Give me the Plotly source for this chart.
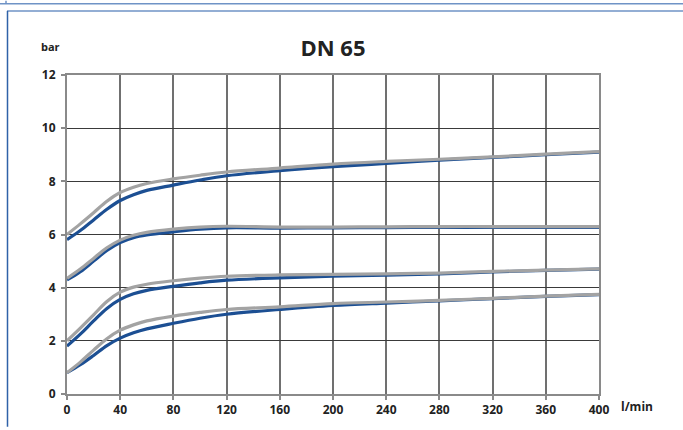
import plotly.graph_objects as go

flow = [0, 10, 20, 30, 40, 50, 60, 80, 100, 120, 160, 200, 240, 280, 320, 360, 400]

blue_1 = [5.81, 6.15, 6.55, 6.95, 7.28, 7.50, 7.66, 7.86, 8.05, 8.21, 8.40, 8.55, 8.67, 8.80, 8.90, 9.00, 9.10]
grey_1 = [6.00, 6.40, 6.82, 7.25, 7.58, 7.78, 7.92, 8.09, 8.23, 8.35, 8.50, 8.65, 8.75, 8.83, 8.92, 9.02, 9.12]
blue_2 = [4.29, 4.60, 5.00, 5.40, 5.70, 5.88, 5.98, 6.10, 6.20, 6.25, 6.24, 6.25, 6.26, 6.27, 6.27, 6.27, 6.27]
grey_2 = [4.35, 4.70, 5.10, 5.50, 5.79, 5.97, 6.08, 6.20, 6.28, 6.31, 6.28, 6.28, 6.29, 6.30, 6.30, 6.30, 6.30]
blue_3 = [1.80, 2.25, 2.75, 3.22, 3.56, 3.77, 3.90, 4.05, 4.18, 4.28, 4.37, 4.43, 4.47, 4.52, 4.59, 4.65, 4.70]
grey_3 = [2.00, 2.48, 2.98, 3.48, 3.83, 4.02, 4.13, 4.26, 4.36, 4.43, 4.48, 4.50, 4.52, 4.55, 4.61, 4.66, 4.71]
blue_4 = [0.80, 1.10, 1.45, 1.82, 2.10, 2.30, 2.45, 2.66, 2.85, 3.00, 3.18, 3.33, 3.42, 3.50, 3.59, 3.67, 3.74]
grey_4 = [0.80, 1.20, 1.65, 2.08, 2.40, 2.60, 2.75, 2.93, 3.07, 3.18, 3.28, 3.40, 3.46, 3.52, 3.60, 3.68, 3.75]

x_ticks = [0, 40, 80, 120, 160, 200, 240, 280, 320, 360, 400]
y_ticks = [0, 2, 4, 6, 8, 10, 12]

BLUE = "#1c4f93"
GREY = "#a3a3a3"

fig = go.Figure()
for b in [blue_1, blue_2, blue_3, blue_4]:
    fig.add_trace(go.Scatter(x=flow, y=b, mode="lines",
                             line=dict(color=BLUE, width=3.2, shape="spline", smoothing=1.0),
                             hoverinfo="skip", showlegend=False))
for g in [grey_1, grey_2, grey_3, grey_4]:
    fig.add_trace(go.Scatter(x=flow, y=g, mode="lines",
                             line=dict(color=GREY, width=3.2, shape="spline", smoothing=1.0),
                             hoverinfo="skip", showlegend=False))

L, R, T, B = 67, 599, 75, 397
W, H = 683, 430

def px(x):
    return (x - L) / (R - L)

def py(y):
    return (B - y) / (B - T)

fig.update_layout(
    width=W, height=H,
    margin=dict(l=L, r=W - R, t=T, b=H - B),
    paper_bgcolor="white", plot_bgcolor="white",
    font=dict(family="Open Sans", color="#222222", size=12),
    title=dict(text="<b>DN 65</b>", x=0.5, xref="paper", xanchor="center",
               y=1 - 48 / H, yanchor="middle",
               font=dict(size=22, color="#222222", family="Open Sans")),
    xaxis=dict(range=[0, 400], tickvals=x_ticks, ticktext=[f"<b>{v}</b>" for v in x_ticks],
               showgrid=True, gridcolor="#707070", gridwidth=1.5,
               showline=True, linecolor="#8a8a8a", linewidth=2, mirror=True,
               ticks="outside", ticklen=4, tickcolor="#8a8a8a", tickwidth=1.5,
               zeroline=False, tickfont=dict(size=12)),
    yaxis=dict(range=[0, 12], tickvals=y_ticks, ticktext=[f"<b>{v}</b>" for v in y_ticks],
               showgrid=True, gridcolor="#3a3a3a", gridwidth=1,
               showline=True, linecolor="#8a8a8a", linewidth=2, mirror=True,
               ticks="outside", ticklen=4, tickcolor="#8a8a8a", tickwidth=1.5,
               zeroline=False, tickfont=dict(size=12), ticklabelstandoff=3),
    annotations=[
        dict(text="<b>bar</b>", x=px(50), y=py(46), xref="paper", yref="paper",
             showarrow=False, xanchor="center", yanchor="middle", font=dict(size=11)),
        dict(text="<b>l/min</b>", x=px(619), y=py(410), xref="paper", yref="paper",
             showarrow=False, xanchor="left", yanchor="middle", font=dict(size=12)),
    ],
    shapes=[
        dict(type="line", xref="paper", yref="paper", x0=px(0), x1=px(W), y0=py(3), y1=py(3),
             line=dict(color="#6f93c6", width=1.5)),
        dict(type="line", xref="paper", yref="paper", x0=px(6), x1=px(6), y0=py(0), y1=py(3),
             line=dict(color="#6f93c6", width=1.5)),
        dict(type="line", xref="paper", yref="paper", x0=px(7), x1=px(W), y0=py(10.5), y1=py(10.5),
             line=dict(color="#6f93c6", width=1.5)),
        dict(type="line", xref="paper", yref="paper", x0=px(7.5), x1=px(7.5), y0=py(10.5), y1=py(H),
             line=dict(color="#2f62a8", width=1.5)),
    ],
)

fig.write_html("out.html")
